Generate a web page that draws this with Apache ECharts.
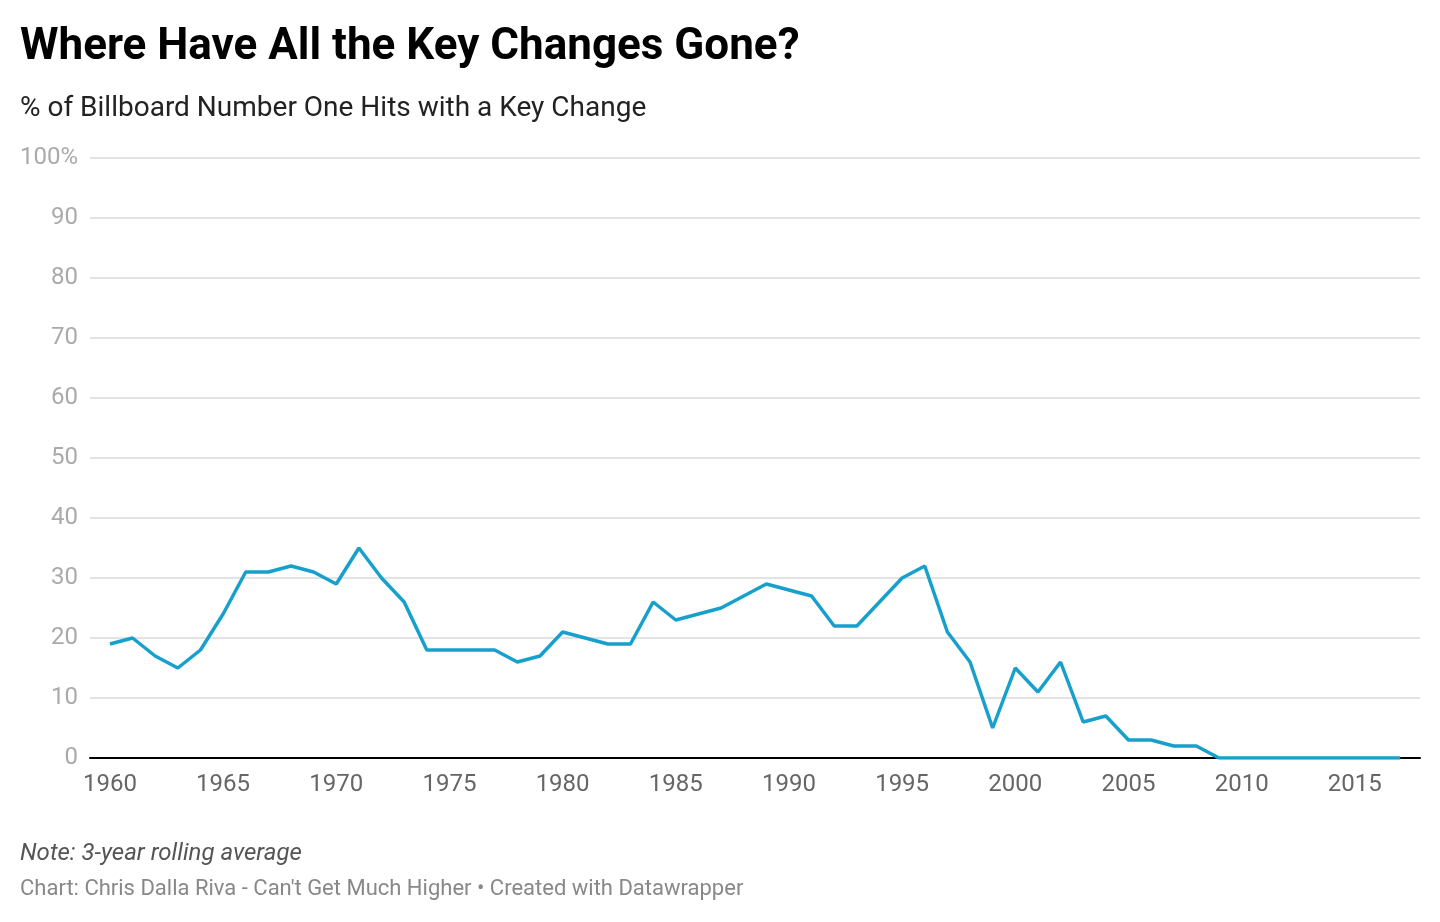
<!DOCTYPE html>
<html>
<head>
<meta charset="utf-8">
<script src="https://cdn.jsdelivr.net/npm/echarts@6/dist/echarts.min.js"></script>
<style>
html,body{margin:0;padding:0;background:#fff;}
#c{width:1440px;height:922px;}
</style>
</head>
<body>
<div id="c"></div>
<script>
const years = [1960,1961,1962,1963,1964,1965,1966,1967,1968,1969,1970,1971,1972,1973,1974,1975,1976,1977,1978,1979,1980,1981,1982,1983,1984,1985,1986,1987,1988,1989,1990,1991,1992,1993,1994,1995,1996,1997,1998,1999,2000,2001,2002,2003,2004,2005,2006,2007,2008,2009,2010,2011,2012,2013,2014,2015,2016,2017];
const keyChangePct = [19,20,17,15,18,24,31,31,32,31,29,35,30,26,18,18,18,18,16,17,21,20,19,19,26,23,24,25,27,29,28,27,22,22,26,30,32,21,16,5,15,11,16,6,7,3,3,2,2,0,0,0,0,0,0,0,0,0];
const xTicks = [1960,1965,1970,1975,1980,1985,1990,1995,2000,2005,2010,2015];
const titleText = 'Where Have All the Key Changes Gone?';
const subtitleText = '% of Billboard Number One Hits with a Key Change';
const noteText = 'Note: 3-year rolling average';
const sourceText = "Chart: Chris Dalla Riva - Can't Get Much Higher \u2022 Created with Datawrapper";

const chart = echarts.init(document.getElementById('c'));
const F = 'Roboto, "Noto Sans", sans-serif';
chart.setOption({
  animation: false,
  textStyle: {fontFamily: F},
  title: [
    {text: titleText, left: 20, top: 26, padding: 0, textStyle: {fontFamily: F, fontSize: 44, fontWeight: 'bold', color: '#000'}},
    {text: subtitleText, left: 20, top: 95, padding: 0, textStyle: {fontFamily: F, fontSize: 28, fontWeight: 'normal', color: '#222'}},
    {text: noteText, left: 20, top: 842, padding: 0, textStyle: {fontFamily: F, fontSize: 24, fontStyle: 'italic', fontWeight: 'normal', color: '#555'}},
    {text: sourceText, left: 20, top: 878, padding: 0, textStyle: {fontFamily: F, fontSize: 22, fontWeight: 'normal', color: '#888'}}
  ],
  grid: {left: 90, right: 20, top: 158, bottom: 164, containLabel: false},
  xAxis: {
    type: 'value',
    min: 1959.12, max: 2017.88,
    axisLine: {show: true, lineStyle: {color: '#000', width: 2}},
    axisTick: {show: false},
    splitLine: {show: false},
    axisLabel: {customValues: xTicks, color: '#666', fontSize: 24, margin: 15, fontFamily: F,
      formatter: v => String(v)}
  },
  yAxis: {
    type: 'value', min: 0, max: 100, interval: 10,
    axisLine: {show: false}, axisTick: {show: false},
    splitLine: {lineStyle: {color: '#e3e3e3', width: 2}},
    axisLabel: {color: '#aaa', fontSize: 24, margin: 12, fontFamily: F, padding: [4, 0, 0, 0],
      formatter: v => v === 100 ? '100%' : String(v)}
  },
  series: [{
    type: 'line',
    data: years.map((y, i) => [y, keyChangePct[i]]),
    showSymbol: false,
    lineStyle: {color: '#18a0cd', width: 3.5},
    itemStyle: {color: '#18a0cd'}
  }]
});
</script>
</body>
</html>
